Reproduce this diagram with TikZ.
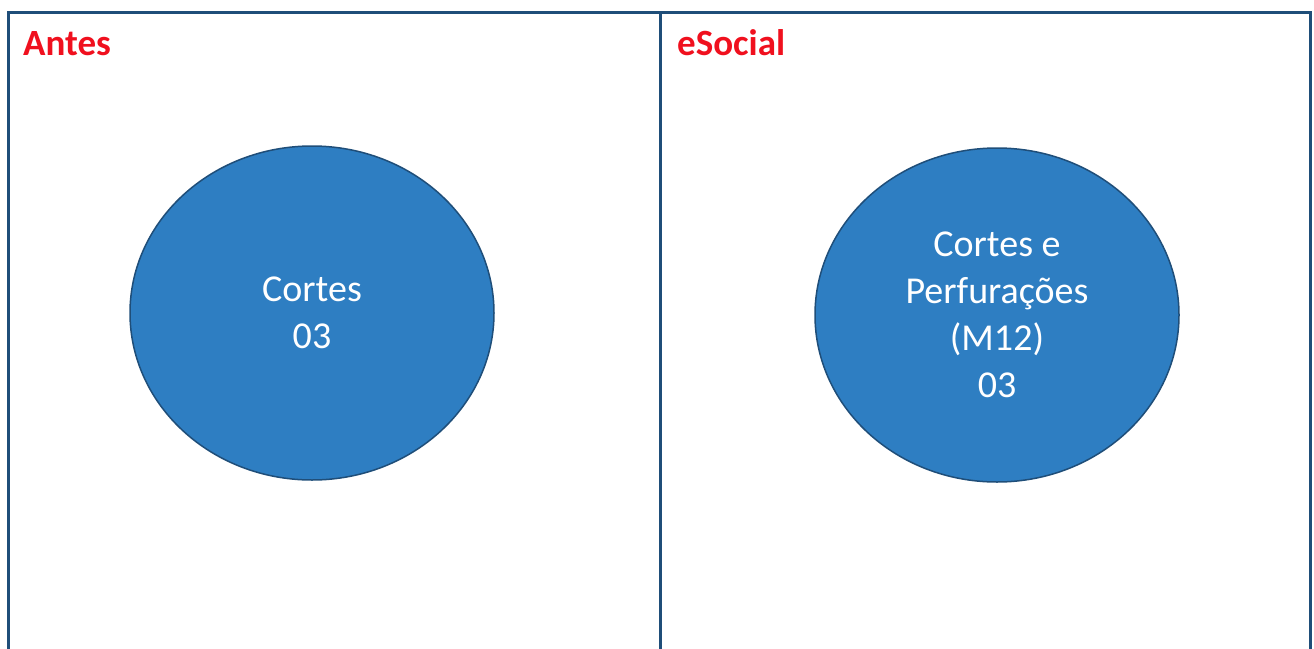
\documentclass[tikz,border=0pt]{standalone}
\usepackage{fontspec}
\setmainfont{Carlito}
\usetikzlibrary{shapes.geometric}
\definecolor{panelblue}{HTML}{1F4E79}
\definecolor{discblue}{HTML}{2E7EC2}
\definecolor{discedge}{HTML}{1F4E79}
\definecolor{titlered}{HTML}{F0101E}

\begin{document}
\begin{tikzpicture}[x=1pt,y=-1pt,
  disc/.style={draw=discedge, line width=1.5pt, fill=discblue, ellipse,
    minimum width=364pt, minimum height=334pt, text=white, align=center,
    font=\fontsize{38}{47}\selectfont},
  paneltitle/.style={anchor=base west, text=titlered, inner sep=0pt,
    font=\bfseries\fontsize{37}{44}\selectfont}]
  \useasboundingbox (0,0) rectangle (1314,648);
  \clip (0,0) rectangle (1314,648);
  % two panels, open at the bottom
  \draw[panelblue, line width=3pt] (8,12) rectangle (660,700);
  \draw[panelblue, line width=3pt] (660,12) rectangle (1310,700);
  \node[paneltitle] (antes) at (23,55) {Antes};
  \node[paneltitle] (esocial) at (677,55) {eSocial};
  \node[disc] (cortes) at (312,313) {Cortes\\03};
  \node[disc] (perfuracoes) at (997,315) {Cortes e\\Perfurações\\(M12)\\03};
\end{tikzpicture}
\end{document}
